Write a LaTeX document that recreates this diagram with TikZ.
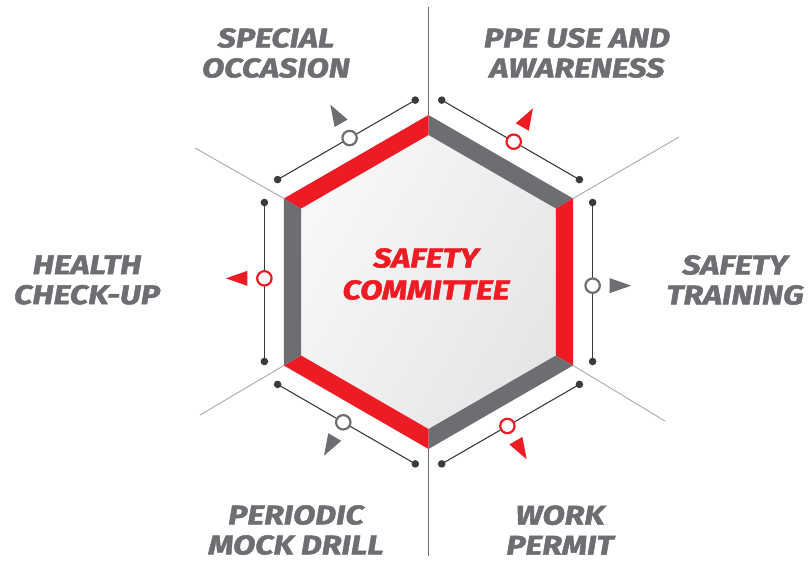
\documentclass[tikz,border=0pt]{standalone}
\usepackage{fontspec}
\setmainfont{Fira Sans}[BoldItalicFeatures={FakeBold=1.8,FakeStretch=1.2}]
\usetikzlibrary{calc}
\definecolor{hred}{HTML}{ED1C24}
\definecolor{hgray}{HTML}{6D6E71}
\definecolor{dotc}{HTML}{3A3B3D}
\definecolor{rayc}{HTML}{A7A9AC}
\begin{document}
\begin{tikzpicture}[x=1pt,y=-1pt,
  lbl/.style={font=\fontsize{27}{30}\selectfont\bfseries\itshape, text=hgray, align=center, inner sep=0pt},
  ctr/.style={font=\fontsize{27}{32}\selectfont\bfseries\itshape, text=hred, align=center, inner sep=0pt},
  ray/.style={draw=rayc, line width=0.9pt},
  vray/.style={draw=hgray, line width=1pt},
  conn/.style={draw=dotc, line width=1.1pt},
  dotn/.style={circle, fill=dotc, inner sep=0pt, minimum size=7.6pt},
  ring/.style={circle, fill=white, inner sep=0pt, minimum size=14.4pt, line width=2.2pt}]
\useasboundingbox (0,0) rectangle (811,561);
\coordinate (C) at (428.5,282);
\foreach \k in {0,...,5}{
  \pgfmathsetmacro\ang{-90+60*\k}
  \coordinate (O\k) at ($(C)+(\ang:167)$);
  \coordinate (I\k) at ($(C)+(\ang:147)$);
}
% rays
\coordinate (R0) at (428.5,7);
\coordinate (R1) at (679,137);
\coordinate (R2) at (665,421);
\coordinate (R3) at (428.5,556);
\coordinate (R4) at (200,415);
\coordinate (R5) at (195,148);
\draw[vray] (R0) -- (O0);
\draw[vray] (R3) -- (O3);
\draw[ray] (R1) -- (O1);
\draw[ray] (R2) -- (O2);
\draw[ray] (R4) -- (O4);
\draw[ray] (R5) -- (O5);
% inner face
\shade[left color=white!97!black, right color=white!90!black, shading angle=60]
  (I0) -- (I1) -- (I2) -- (I3) -- (I4) -- (I5) -- cycle;
% bands, connectors, rings, pointers
\foreach \k/\bc/\cc in {0/hgray/hred, 1/hred/hgray, 2/hgray/hred, 3/hred/hgray, 4/hgray/hred, 5/hred/hgray}{
  \pgfmathtruncatemacro\nk{mod(\k+1,6)}
  \pgfmathsetmacro\nn{-60+60*\k}
  \pgfmathsetmacro\na{\nn+90}
  \pgfmathsetmacro\nb{\nn-90}
  \fill[\bc] (O\k) -- (O\nk) -- (I\nk) -- (I\k) -- cycle;
  \coordinate (S\k) at ($($(O\k)!4pt!(O\nk)$)+(\nn:19.5)$);
  \coordinate (E\k) at ($($(O\nk)!4pt!(O\k)$)+(\nn:19.5)$);
  \draw[conn] (S\k) -- (E\k);
  \node[dotn] (da\k) at (S\k) {};
  \node[dotn] (db\k) at (E\k) {};
  \node[ring, draw=\cc] (r\k) at ($(S\k)!0.523!(E\k)$) {};
  \fill[\cc] ($(r\k.center)+(\nn:17)+(\na:7.5)$) -- ($(r\k.center)+(\nn:38.5)$)
     -- ($(r\k.center)+(\nn:17)+(\nb:7.5)$) -- cycle;
}
% labels
\node[lbl] (t5) at (276,53) {SPECIAL\\OCCASION};
\node[lbl] (t0) at (577,53) {PPE USE AND\\AWARENESS};
\node[lbl] (t4) at (87,280) {HEALTH\\CHECK-UP};
\node[lbl] (t1) at (735,280) {SAFETY\\TRAINING};
\node[lbl] (t3) at (296,530) {PERIODIC\\MOCK DRILL};
\node[lbl] (t2) at (560,530) {WORK\\PERMIT};
\node[ctr] (tc) at (426,274) {SAFETY\\COMMITTEE};
\end{tikzpicture}
\end{document}
